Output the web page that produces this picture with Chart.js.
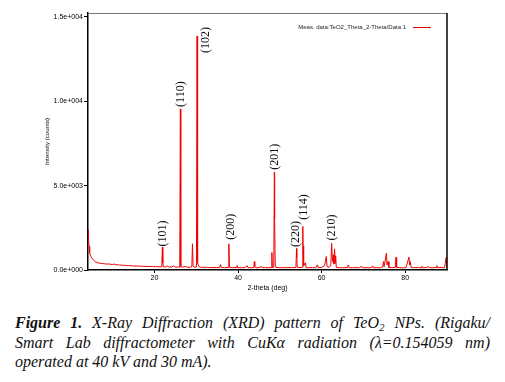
<!DOCTYPE html>
<html><head><meta charset="utf-8">
<script src="https://cdn.jsdelivr.net/npm/chart.js@4/dist/chart.umd.min.js"></script>
<style>
html,body{margin:0;padding:0;background:#fff;width:505px;height:382px;overflow:hidden;}
#wrap{position:absolute;left:0;top:0;width:505px;height:300px;}
#cap{position:absolute;left:15px;top:313px;width:475px;font-family:"Liberation Serif","Times New Roman",serif;font-style:italic;font-size:16px;line-height:19.5px;color:#111;}
.j{text-align:justify;text-align-last:justify;white-space:nowrap;}
.j2{text-align:justify;text-align-last:justify;}
sub{font-size:11px;line-height:0;vertical-align:-3px;}
</style></head>
<body>
<div id="wrap"><canvas id="c" width="505" height="300"></canvas></div>
<div id="cap">
<div class="j2"><b>Figure 1.</b> X-Ray Diffraction (XRD) pattern of TeO<sub>2</sub> NPs. (Rigaku/</div>
<div class="j2">Smart Lab diffractometer with CuKα radiation (λ=0.154059 nm)</div>
<div>operated at 40 kV and 30 mA).</div>
</div>
<script>
// 2-theta (deg)
const twoTheta = [
4.1,4.2,4.35,4.5,4.8,5.2,5.8,6.3,7.0,7.6,8.0,8.6,9.0,9.6,10.0,10.4,10.8,11.2,11.6,12.0,12.4,12.8,13.3,13.8,14.4,15.0,15.8,16.6,17.4,18.2,19.0,19.8,20.6,21.4,
21.75,21.9,22.0,22.15,22.6,23.2,23.5,24.2,24.6,24.9,25.6,26.05,26.2,26.25,26.35,26.7,27.4,28.0,28.6,28.95,29.1,29.25,29.5,
30.05,30.2,30.25,30.4,30.6,31.0,31.6,32.4,33.2,34.0,34.8,35.6,35.8,36.0,36.8,37.6,37.8,37.95,38.6,39.6,39.75,39.9,
40.8,41.6,42.2,42.4,43.2,43.8,43.9,44.0,44.2,45.0,45.6,45.8,46.6,47.4,47.9,48.1,48.2,48.55,48.7,48.75,48.9,49.1,49.8,
50.6,51.4,52.2,52.8,53.85,54.0,54.05,54.2,54.8,55.35,55.5,55.55,55.7,56.1,56.3,57.0,57.8,58.6,59.0,59.2,
60.0,60.7,60.9,61.1,61.3,61.8,62.2,62.4,62.6,62.8,62.95,63.1,63.25,63.35,63.5,64.2,65.0,66.2,66.4,66.6,67.4,68.2,69.0,69.6,69.8,
70.6,71.4,72.0,72.2,72.4,73.2,74.0,74.6,74.8,74.95,75.5,75.65,75.9,76.1,76.8,77.6,77.8,77.95,78.6,79.4,
80.2,80.9,81.05,81.2,81.4,82.2,83.0,83.8,84.0,84.2,85.0,85.6,85.8,86.6,87.4,87.6,87.8,88.6,89.4,89.8,90.0
];
// Intensity (counts)
const counts = [
2400,1900,1400,1000,800,650,500,440,400,380,370,350,360,335,330,350,300,320,290,300,270,285,260,270,250,240,235,225,220,210,205,200,195,185,
190,1355,420,190,175,230,170,180,260,170,175,170,9540,3680,200,170,210,165,170,190,1550,260,165,
180,13860,9600,400,220,160,150,165,145,150,140,150,320,150,140,150,1550,170,140,150,260,140,
135,140,250,135,140,150,500,220,140,135,210,135,140,135,140,1035,150,160,5790,3010,300,150,140,
135,140,145,135,150,1270,720,160,140,160,2575,1430,250,425,140,135,140,135,300,135,
150,260,500,800,200,160,300,1580,500,900,350,1250,400,840,160,140,130,150,300,130,135,140,130,220,130,
140,130,150,250,135,140,130,180,500,200,1000,300,500,150,140,150,760,160,140,130,
145,760,300,500,160,140,145,130,220,135,140,200,135,130,150,260,135,145,130,740,150
];
// peak annotations (hkl) anchored in data units
const peakLabels = ['(101)','(110)','(102)','(200)','(201)','(220)','(114)','(210)'];
const labelTheta = [21.9,26.2,32.25,38.1,48.7,53.7,55.7,62.3];
const labelCounts = [1390,9660,12850,1790,5930,1355,2970,1745];
const xTicks = [20,40,60,80];
const yTicks = [0,5000,10000,15000];
const seriesName = 'Meas. data:TeO2_Theta_2-Theta/Data 1';

const points = twoTheta.map((x,i)=>({x:x,y:counts[i]}));

function fmtExp(v){
  const s = Number(v).toExponential(1);
  const m = s.match(/^(-?[\d.]+)e([+-])(\d+)$/);
  return m[1]+'e'+m[2]+m[3].padStart(3,'0');
}

const deco = {
  id:'deco',
  afterDraw(chart){
    const ctx = chart.ctx, a = chart.chartArea;
    const xs = chart.scales.x, ys = chart.scales.y;
    ctx.save();
    // top border
    ctx.strokeStyle = '#777'; ctx.lineWidth = 1;
    ctx.beginPath(); ctx.moveTo(a.left, a.top+0.5); ctx.lineTo(a.right, a.top+0.5); ctx.stroke();
    // right border
    ctx.strokeStyle = '#000'; ctx.lineWidth = 1.5;
    ctx.beginPath(); ctx.moveTo(a.right, a.top); ctx.lineTo(a.right, a.bottom); ctx.stroke();
    // legend
    ctx.fillStyle = '#222';
    ctx.font = '6px "Liberation Sans", Arial, sans-serif';
    ctx.textAlign = 'right'; ctx.textBaseline = 'middle';
    ctx.fillText(seriesName, a.right-41, a.top+14);
    ctx.strokeStyle = '#e00000'; ctx.lineWidth = 1;
    ctx.beginPath(); ctx.moveTo(a.right-34, a.top+14.5); ctx.lineTo(a.right-16, a.top+14.5); ctx.stroke();
    // axis titles
    ctx.fillStyle = '#000';
    ctx.font = '7px "Liberation Sans", Arial, sans-serif';
    ctx.textAlign = 'center'; ctx.textBaseline = 'middle';
    ctx.fillText('2-theta (deg)', (a.left+a.right)/2, a.bottom+18);
    ctx.save();
    ctx.translate(a.left-41, (a.top+a.bottom)/2);
    ctx.rotate(-Math.PI/2);
    ctx.font = '6.2px "Liberation Sans", Arial, sans-serif';
    ctx.fillText('Intensity (counts)', 0, 0);
    ctx.restore();
    // peak labels
    ctx.fillStyle = '#111';
    ctx.font = '12px "Liberation Serif", "Times New Roman", serif';
    ctx.textAlign = 'left'; ctx.textBaseline = 'middle';
    peakLabels.forEach((t,i)=>{
      const px = xs.getPixelForValue(labelTheta[i]);
      const py = ys.getPixelForValue(labelCounts[i]);
      ctx.save(); ctx.translate(px, py); ctx.rotate(-Math.PI/2);
      ctx.fillText(t, 0, 0.5);
      ctx.restore();
    });
    ctx.restore();
  }
};

new Chart(document.getElementById('c'), {
  type:'line',
  data:{datasets:[{label:seriesName,data:points,borderColor:'#f00000',borderWidth:1,pointRadius:0,tension:0,fill:false}]},
  options:{
    responsive:false, animation:false,
    layout:{padding:{left:0,right:58,top:13,bottom:0}},
    plugins:{legend:{display:false},tooltip:{enabled:false}},
    scales:{
      x:{type:'linear',min:4.1,max:90,
        afterBuildTicks(s){s.ticks = xTicks.map(v=>({value:v}));},
        afterFit(s){s.height = 30;},
        grid:{drawOnChartArea:false,drawTicks:true,tickLength:3,color:'#000'},
        border:{display:true,color:'#000',width:1.5},
        ticks:{color:'#000',padding:1,maxRotation:0,font:{family:'"Liberation Sans", Arial, sans-serif',size:7}}
      },
      y:{type:'linear',min:0,max:15220,
        afterBuildTicks(s){s.ticks = yTicks.map(v=>({value:v}));},
        afterFit(s){s.width = 88;},
        grid:{drawOnChartArea:false,drawTicks:true,tickLength:4,color:'#000'},
        border:{display:true,color:'#000',width:1.5},
        ticks:{color:'#000',padding:1,callback:(v)=>fmtExp(v),font:{family:'"Liberation Sans", Arial, sans-serif',size:7}}
      }
    }
  },
  plugins:[deco]
});
</script>
</body></html>
